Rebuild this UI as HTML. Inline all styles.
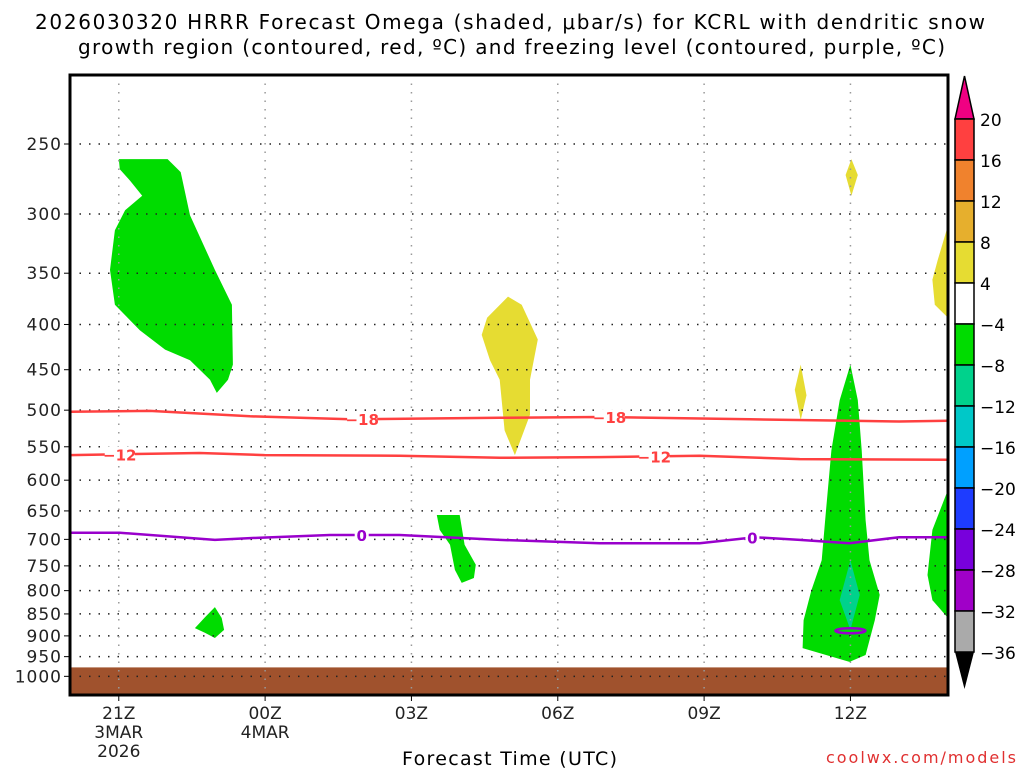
<!DOCTYPE html>
<html><head><meta charset="utf-8"><style>
body{margin:0;background:#fff;}
svg text{font-family:"DejaVu Sans","Liberation Sans",sans-serif;}
</style></head><body>
<svg id="chart" width="1024" height="768" xmlns="http://www.w3.org/2000/svg">
<rect width="1024" height="768" fill="#fff"/>
<text x="35" y="29" font-size="20" textLength="950" lengthAdjust="spacing" fill="#000">2026030320 HRRR Forecast Omega (shaded, μbar/s) for KCRL with dendritic snow</text>
<text x="78" y="54" font-size="20" textLength="867" lengthAdjust="spacing" fill="#000">growth region (contoured, red, ºC) and freezing level (contoured, purple, ºC)</text>
<g id="plot"></g>
<g id="cbar"></g>
<text x="402" y="765" font-size="19" textLength="215" lengthAdjust="spacing" fill="#000">Forecast Time (UTC)</text>
<text x="826" y="763" font-size="16" textLength="190" lengthAdjust="spacing" fill="#e03030">coolwx.com/models</text>
</svg>
<script>
const pressureTicks=[250,300,350,400,450,500,550,600,650,700,750,800,850,900,950,1000];
const timeTicks=[1,4,7,10,13,16];
const timeLabels=[["21Z","3MAR","2026"],["00Z","4MAR"],["03Z"],["06Z"],["09Z"],["12Z"]];
const cbarLevels=[20,16,12,8,4,-4,-8,-12,-16,-20,-24,-28,-32,-36];
const cbarColors=["#ff4040","#f0822d","#e6af2d","#e6dc32","#ffffff","#00dc00","#00d28c","#00c8c8","#00a0ff","#1e3cff","#7800dc","#a000c8","#aaaaaa"];
// shaded omega regions: [hour, pressure]
const greenUpperLeft=[[1.0,260],[2.0,260],[2.27,269],[2.46,301],[2.97,347],[3.32,380],[3.34,444],[3.24,462],[3.01,478],[2.87,462],[2.46,439],[1.95,427],[1.43,406],[0.92,380],[0.82,347],[0.92,313],[1.13,297],[1.48,286],[1.23,275],[1.02,267]];
const greenLowLeft=[[2.56,882],[2.77,857],[2.97,835],[3.11,859],[3.16,886],[2.97,905],[2.77,893]];
const yellowMid=[[8.55,393],[8.98,372],[9.26,380],[9.59,416],[9.43,462],[9.43,506],[9.12,562],[8.91,527],[8.81,462],[8.61,439],[8.44,411]];
const greenMid=[[7.52,657],[7.99,657],[8.09,710],[8.32,748],[8.28,774],[8.03,784],[7.89,758],[7.79,710],[7.58,683]];
const yellowTop12=[[16.02,260],[16.15,271],[16.02,286],[15.9,271]];
const yellowSmall=[[14.98,444],[15.1,481],[14.98,513],[14.86,474]];
const yellowRight=[[18,309],[18,393],[17.73,380],[17.68,356],[17.79,338]];
const greenBig12=[[16.0,444],[16.15,487],[16.23,555],[16.31,666],[16.39,739],[16.6,809],[16.5,864],[16.31,946],[15.98,963],[15.02,929],[15.04,864],[15.2,799],[15.41,739],[15.49,657],[15.61,555],[15.78,487]];
const tealBig12=[[16.0,739],[16.19,809],[16.0,886],[15.78,820]];
const greenRight=[[18,615],[18,859],[17.68,820],[17.58,768],[17.68,683]];
// contour lines
const lineHours18=[0,1.64,3.69,5.74,8.81,10.86,13.93,15.98,17,18];
const lineP18=[502,501,508,512,510,509,512,514,515,514];
const lineHours12=[0,2.66,3.99,6.76,8.81,10.86,12.91,14.96,18];
const lineP12=[562,559,562,563,566,565,563,568,569];
const lineHours0=[0,1.02,2.97,3.89,5.33,6.76,8.81,10.86,12.91,14.04,14.96,15.98,17,18];
const lineP0=[688,688,701,697,692,692,701,707,707,696,701,707,696,696];
const groundP=977;

const L=70,R=948,T=75,B=695,hours=18;
const xs=h=>L+h*(R-L)/hours;
const ys=p=>144+384*Math.log(p/250);
const NS="http://www.w3.org/2000/svg";
const plot=document.getElementById('plot');
function mk(tag,attrs,parent){const e=document.createElementNS(NS,tag);for(const k in attrs)e.setAttribute(k,attrs[k]);(parent||plot).appendChild(e);return e;}
function poly(pts,fill,name){
  const e=mk('polygon',{points:pts.map(q=>xs(q[0]).toFixed(1)+','+ys(q[1]).toFixed(1)).join(' '),fill:fill});
  
  
}
poly(greenUpperLeft,'#00dc00','omega-green-upper-left');
poly(greenLowLeft,'#00dc00','omega-green-low-left');
poly(yellowMid,'#e6dc32','omega-yellow-mid');
poly(greenMid,'#00dc00','omega-green-mid');
poly(yellowTop12,'#e6dc32','omega-yellow-top');
poly(yellowSmall,'#e6dc32','omega-yellow-small');
poly(yellowRight,'#e6dc32','omega-yellow-right');
poly(greenBig12,'#00dc00','omega-green-12z');
poly(tealBig12,'#00d28c','omega-teal-12z');
poly(greenRight,'#00dc00','omega-green-right');
// ground
const g=mk('rect',{x:L,y:ys(groundP),width:R-L,height:B-ys(groundP),fill:'#a0522d'});


// grid
pressureTicks.forEach(p=>{
  const y=ys(p);
  const gl=mk('line',{x1:L,x2:R,y1:y,y2:y,stroke:'#222','stroke-width':1.5,'stroke-dasharray':'1.5 8'});
  
  
  const tk=mk('line',{x1:L-6,x2:L,y1:y,y2:y,stroke:'#000'});
  
  
  const t=mk('text',{x:L-8,y:y+6,'font-size':17,'text-anchor':'end',fill:'#222','letter-spacing':1});
  t.textContent=p;
  
  
});
timeTicks.forEach((h,i)=>{
  const x=xs(h);
  const gl=mk('line',{x1:x,x2:x,y1:T,y2:B,stroke:'#999','stroke-width':1.5,'stroke-dasharray':'1.5 7'});
  
  
  const tk=mk('line',{x1:x,x2:x,y1:B,y2:B+6,stroke:'#000'});
  
  
  timeLabels[i].forEach((s,j)=>{
    const t=mk('text',{x:x,y:B+24+j*19,'font-size':17,'text-anchor':'middle',fill:'#222'});
    t.textContent=s;
    
    
  });
});
// contour lines
function cline(hs,ps,color,name,labels,txt,w){
  const d=hs.map((h,i)=>(i?'L':'M')+xs(h).toFixed(1)+','+ys(ps[i]).toFixed(1)).join(' ');
  const e=mk('path',{d:d,stroke:color,'stroke-width':2.5,fill:'none'});
  
  
  labels.forEach(h=>{
    let i=0;while(i<hs.length-2&&hs[i+1]<h)i++;
    const f=(h-hs[i])/(hs[i+1]-hs[i]);const p=ps[i]+f*(ps[i+1]-ps[i]);
    const r=mk('rect',{x:xs(h)-w/2,y:ys(p)-8,width:w,height:16,fill:'#fff'});
    
    
    const t=mk('text',{x:xs(h),y:ys(p)+6,'font-size':15,'font-weight':'bold','text-anchor':'middle',fill:color});
    t.textContent=txt;
    
    
  });
}
cline(lineHours18,lineP18,'#ff4040','contour-minus18',[5.99,11.06],'−18',30);
cline(lineHours12,lineP12,'#ff4040','contour-minus12',[1.02,11.98],'−12',30);
cline(lineHours0,lineP0,'#9900cc','freezing-level-0',[5.98,13.99],'0',14);
const el=mk('ellipse',{cx:xs(16),cy:ys(888),rx:15,ry:2.5,fill:'none',stroke:'#9900cc','stroke-width':2.5});


// frame
const fr=mk('rect',{x:L,y:T,width:R-L,height:B-T,fill:'none',stroke:'#000','stroke-width':3});


// colorbar
const cb=document.getElementById('cbar');
const cx=955,cw=19,ct=119,bh=41;
const tri=mk('polygon',{points:`${cx},${ct} ${cx+cw/2},76 ${cx+cw},${ct}`,fill:'#f00082',stroke:'#000','stroke-width':1.5},cb);


cbarColors.forEach((c,i)=>{
  const r=mk('rect',{x:cx,y:ct+i*bh,width:cw,height:bh,fill:c,stroke:'#000','stroke-width':1.5},cb);
  
  
});
const cbBot=ct+cbarColors.length*bh;
const tri2=mk('polygon',{points:`${cx},${cbBot} ${cx+cw/2},689 ${cx+cw},${cbBot}`,fill:'#000'},cb);


cbarLevels.forEach((v,i)=>{
  const t=mk('text',{x:980,y:ct+i*bh+7,'font-size':17,fill:'#000'},cb);
  t.textContent=v<0?'−'+(-v):v;
  
  
});
</script>
</body></html>
